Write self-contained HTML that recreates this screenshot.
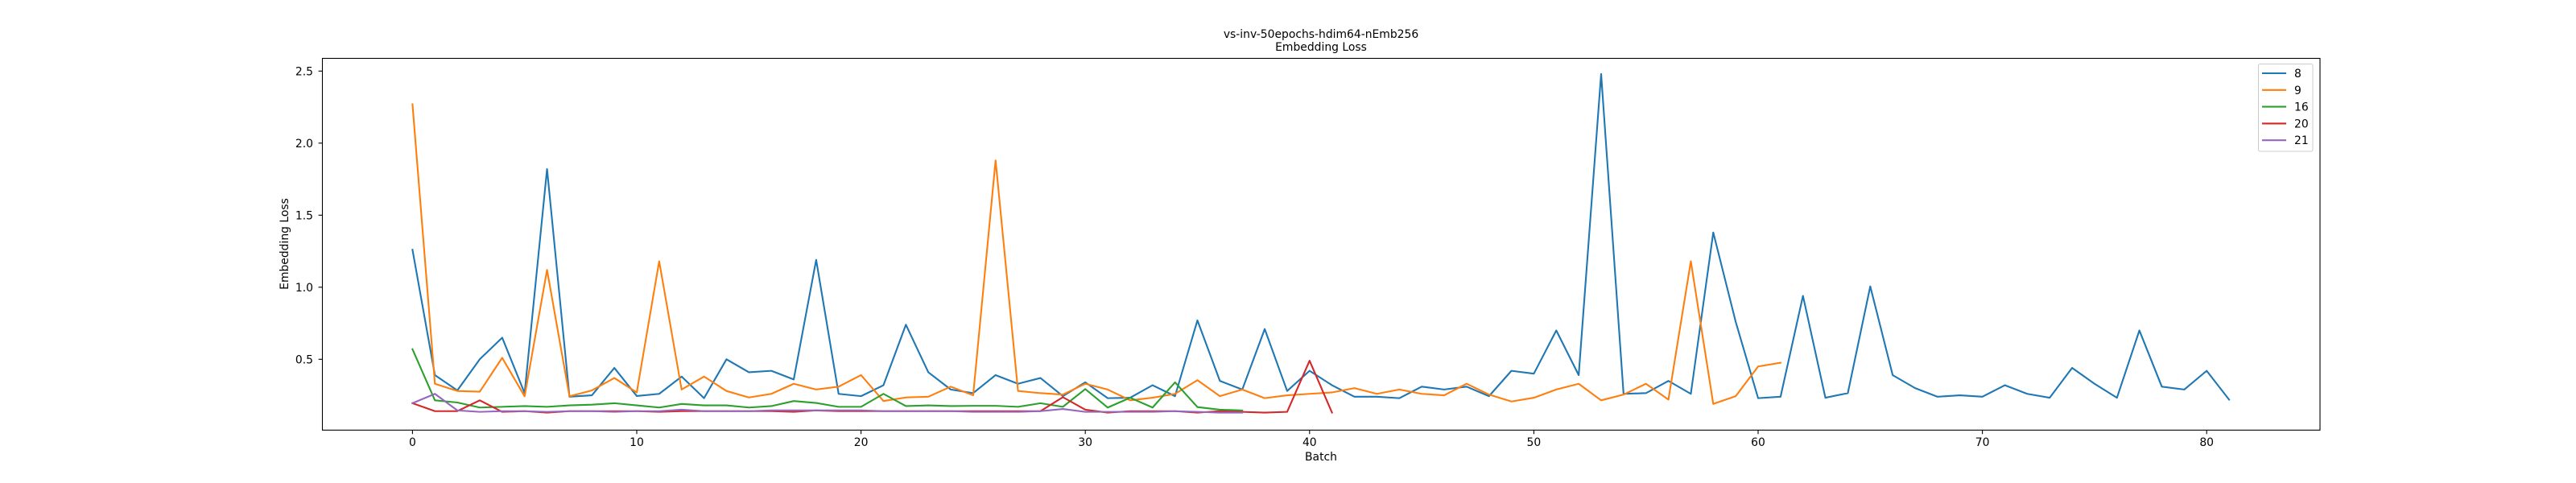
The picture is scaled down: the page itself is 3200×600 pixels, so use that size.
<!DOCTYPE html>
<html><head><meta charset="utf-8"><style>
html,body{margin:0;padding:0;background:#fff;}
svg{display:block;font-family:"DejaVu Sans","Liberation Sans",sans-serif;}
</style></head><body>
<svg id="chart" width="3200" height="600" xmlns="http://www.w3.org/2000/svg">
<rect x="0" y="0" width="3200" height="600" fill="#fff"/>
<text x="1641" y="47" font-size="13.9" text-anchor="middle">vs-inv-50epochs-hdim64-nEmb256</text>
<text x="1641" y="63" font-size="13.9" text-anchor="middle">Embedding Loss</text>
<g id="xticks"></g>
<g id="yticks"></g>
<g id="series"></g>
<rect x="400.5" y="72.5" width="2481.5" height="461.8" fill="none" stroke="#000" stroke-width="1.1"/>
<text x="1641" y="572" font-size="13.9" text-anchor="middle">Batch</text>
<text x="0" y="0" font-size="13.9" text-anchor="middle" transform="translate(358,303) rotate(-90)">Embedding Loss</text>
<g id="legend"></g>
</svg>
<script>
const seriesNames = ["8","9","16","20","21"];
const seriesColors = ["#1f77b4","#ff7f0e","#2ca02c","#d62728","#9467bd"];
const s8 = [1.26,0.39,0.284,0.50,0.65,0.265,1.82,0.24,0.25,0.44,0.245,0.26,0.38,0.23,0.50,0.41,0.42,0.36,1.19,0.26,0.244,0.32,0.74,0.41,0.29,0.265,0.39,0.33,0.37,0.244,0.34,0.23,0.233,0.32,0.244,0.77,0.35,0.29,0.71,0.28,0.42,0.32,0.24,0.24,0.23,0.31,0.29,0.31,0.244,0.42,0.40,0.70,0.39,2.48,0.26,0.265,0.35,0.26,1.38,0.76,0.23,0.24,0.94,0.233,0.265,1.006,0.39,0.30,0.24,0.25,0.24,0.32,0.26,0.233,0.44,0.33,0.233,0.70,0.31,0.29,0.42,0.22];
const s9 = [2.27,0.33,0.28,0.275,0.51,0.243,1.12,0.243,0.284,0.37,0.27,1.18,0.29,0.38,0.28,0.235,0.26,0.33,0.29,0.31,0.39,0.21,0.235,0.24,0.31,0.25,1.88,0.28,0.265,0.255,0.33,0.29,0.215,0.233,0.26,0.355,0.244,0.29,0.23,0.25,0.26,0.27,0.30,0.26,0.29,0.26,0.25,0.33,0.255,0.207,0.233,0.29,0.33,0.215,0.255,0.33,0.22,1.18,0.19,0.244,0.45,0.476];
const s16 = [0.57,0.215,0.2,0.165,0.17,0.175,0.17,0.18,0.185,0.195,0.18,0.165,0.19,0.18,0.18,0.165,0.175,0.21,0.197,0.17,0.17,0.26,0.175,0.18,0.175,0.177,0.177,0.17,0.195,0.17,0.293,0.165,0.233,0.165,0.34,0.168,0.15,0.145];
const s20 = [0.195,0.14,0.14,0.215,0.135,0.14,0.13,0.14,0.14,0.14,0.14,0.135,0.14,0.14,0.14,0.14,0.14,0.135,0.145,0.14,0.14,0.14,0.14,0.14,0.14,0.14,0.14,0.14,0.14,0.237,0.15,0.13,0.14,0.14,0.14,0.13,0.14,0.135,0.13,0.135,0.49,0.13];
const s21 = [0.195,0.26,0.145,0.135,0.14,0.14,0.135,0.14,0.14,0.135,0.14,0.14,0.15,0.14,0.14,0.14,0.145,0.145,0.145,0.145,0.145,0.14,0.14,0.14,0.14,0.135,0.135,0.135,0.14,0.155,0.135,0.135,0.135,0.135,0.14,0.135,0.13,0.13];
const xTickLabels = ["0","10","20","30","40","50","60","70","80"];
const yTickLabels = ["0.5","1.0","1.5","2.0","2.5"];

const NS = "http://www.w3.org/2000/svg";
const X0 = 512.4, XU = 27.86, Y0 = 535.8, YU = 179;
function xs(v){ return X0 + v*XU; }
function ys(v){ return Y0 - v*YU; }
function mk(tag, attrs, parent){ const e=document.createElementNS(NS,tag); for(const k in attrs) e.setAttribute(k,attrs[k]); parent.appendChild(e); return e; }

const gx = document.getElementById('xticks');
xTickLabels.forEach(function(l){
  const v = parseFloat(l), x = xs(v);
  const t = mk('line',{x1:x,y1:534.3,x2:x,y2:539.2,stroke:'#000','stroke-width':1.1},gx);
  
  
  const tx = mk('text',{x:x,y:554,'font-size':13.9,'text-anchor':'middle'},gx);
  tx.textContent = l;
  
  
});
const gy = document.getElementById('yticks');
yTickLabels.forEach(function(l){
  const v = parseFloat(l), y = ys(v);
  const t = mk('line',{x1:395.6,y1:y,x2:400.5,y2:y,stroke:'#000','stroke-width':1.1},gy);
  
  
  const tx = mk('text',{x:389,y:y+5,'font-size':13.9,'text-anchor':'end'},gy);
  tx.textContent = l;
  
  
});
const gs = document.getElementById('series');
const all = [s8,s9,s16,s20,s21];
all.forEach(function(arr,i){
  const pts = arr.map(function(v,j){ return xs(j).toFixed(2)+','+ys(v).toFixed(2); }).join(' ');
  const p = mk('polyline',{points:pts,fill:'none',stroke:seriesColors[i],'stroke-width':2.1,'stroke-linejoin':'round','stroke-linecap':'square'},gs);
  
  
});
const gl = document.getElementById('legend');
const box = mk('rect',{x:2805.5,y:79.5,width:67.5,height:108.5,rx:2,fill:'#fff','fill-opacity':0.8,stroke:'#ccc','stroke-width':1},gl);


seriesNames.forEach(function(n,i){
  const y = 91 + i*20.8;
  const ln = mk('line',{x1:2810,y1:y,x2:2840,y2:y,stroke:seriesColors[i],'stroke-width':2.1},gl);
  
  
  const tx = mk('text',{x:2850,y:y+5,'font-size':13.9},gl);
  tx.textContent = n;
  
  
});
</script>
</body></html>
